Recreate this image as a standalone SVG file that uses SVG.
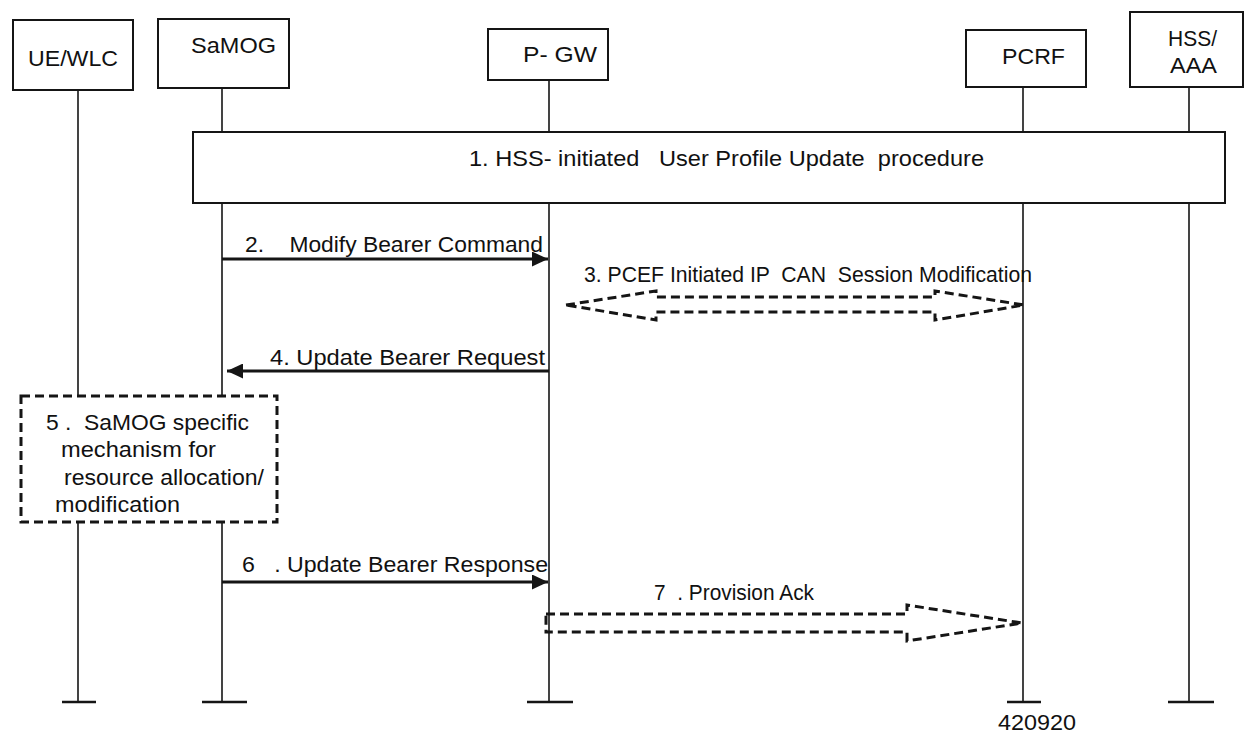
<svg xmlns="http://www.w3.org/2000/svg" width="1248" height="733" viewBox="0 0 1248 733">
<style>
  text { font-family: "Liberation Sans", Arial, sans-serif; font-size: 22px; fill: #111; }
  .box { fill: #fff; stroke: #151515; stroke-width: 2; }
  .life { stroke: #151515; stroke-width: 1.6; fill: none; }
  .endbar { stroke: #151515; stroke-width: 2.6; }
  .msg { stroke: #151515; stroke-width: 3; fill: none; }
  .dashbox { fill: #fff; stroke: #151515; stroke-width: 3; stroke-dasharray: 9 5; }
  .block { fill: none; stroke: #151515; stroke-width: 3; stroke-dasharray: 9 5; stroke-linejoin: miter; }
</style>
<defs>
  <marker id="head" markerUnits="userSpaceOnUse" markerWidth="16" markerHeight="15" refX="16" refY="7.5" orient="auto">
    <path d="M0,0 L16,7.5 L0,15 Z" fill="#151515"/>
  </marker>
</defs>
<rect width="1248" height="733" fill="#fff"/>

<g id="lifelines">
  <line class="life" x1="78" y1="90" x2="78" y2="702"/>
  <line class="life" x1="222" y1="88" x2="222" y2="702"/>
  <line class="life" x1="549" y1="80" x2="549" y2="702"/>
  <line class="life" x1="1023" y1="87" x2="1023" y2="702"/>
  <line class="life" x1="1189" y1="87" x2="1189" y2="702"/>
  <line class="endbar" x1="62" y1="702" x2="96" y2="702"/>
  <line class="endbar" x1="202" y1="702" x2="247" y2="702"/>
  <line class="endbar" x1="527" y1="702" x2="573" y2="702"/>
  <line class="endbar" x1="1007" y1="702" x2="1041" y2="702"/>
  <line class="endbar" x1="1168" y1="702" x2="1214" y2="702"/>
</g>

<g id="ue-wlc">
  <rect class="box" x="13" y="20" width="120" height="70"/>
  <text x="28" y="66" textLength="90" lengthAdjust="spacingAndGlyphs">UE/WLC</text>
</g>
<g id="samog">
  <rect class="box" x="158" y="19" width="131" height="69"/>
  <text x="191" y="53" textLength="85" lengthAdjust="spacingAndGlyphs">SaMOG</text>
</g>
<g id="pgw">
  <rect class="box" x="488" y="29" width="120" height="51"/>
  <text x="523" y="62" textLength="74" lengthAdjust="spacingAndGlyphs" xml:space="preserve">P- GW</text>
</g>
<g id="pcrf">
  <rect class="box" x="966" y="30" width="120" height="57"/>
  <text x="1002" y="64" textLength="63" lengthAdjust="spacingAndGlyphs">PCRF</text>
</g>
<g id="hss-aaa">
  <rect class="box" x="1130" y="12" width="113" height="75"/>
  <text x="1168" y="46" textLength="49" lengthAdjust="spacingAndGlyphs">HSS/</text>
  <text x="1170" y="73" textLength="47" lengthAdjust="spacingAndGlyphs">AAA</text>
</g>

<g id="step1">
  <rect class="box" x="193" y="132" width="1032" height="71"/>
  <text x="469" y="166" textLength="515" lengthAdjust="spacingAndGlyphs" xml:space="preserve">1. HSS- initiated   User Profile Update  procedure</text>
</g>

<g id="step5">
  <rect class="dashbox" x="21" y="396" width="256" height="126"/>
  <text x="46" y="430" textLength="203" lengthAdjust="spacingAndGlyphs" xml:space="preserve">5 .  SaMOG specific</text>
  <text x="61" y="457" textLength="155" lengthAdjust="spacingAndGlyphs">mechanism for</text>
  <text x="64" y="485" textLength="200" lengthAdjust="spacingAndGlyphs">resource allocation/</text>
  <text x="55" y="512" textLength="125" lengthAdjust="spacingAndGlyphs">modification</text>
</g>

<g id="connectors">
  <g id="msg2">
    <line class="msg" x1="222" y1="259" x2="548" y2="259" marker-end="url(#head)"/>
    <text x="245" y="252" textLength="298" lengthAdjust="spacingAndGlyphs" xml:space="preserve">2.    Modify Bearer Command</text>
  </g>
  <g id="msg3">
    <path class="block" d="M566,305 L656,291 L656,297 L935,297 L935,291 L1024,305 L935,320 L935,312 L656,312 L656,320 Z"/>
    <text x="584" y="282" textLength="448" lengthAdjust="spacingAndGlyphs" xml:space="preserve">3. PCEF Initiated IP  CAN  Session Modification</text>
  </g>
  <g id="msg4">
    <line class="msg" x1="549" y1="371" x2="227" y2="371" marker-end="url(#head)"/>
    <text x="270" y="365" textLength="275" lengthAdjust="spacingAndGlyphs">4. Update Bearer Request</text>
  </g>
  <g id="msg6">
    <line class="msg" x1="222" y1="582" x2="548" y2="582" marker-end="url(#head)"/>
    <text x="242" y="572" textLength="306" lengthAdjust="spacingAndGlyphs" xml:space="preserve">6   . Update Bearer Response</text>
  </g>
  <g id="msg7">
    <path class="block" d="M546,614 L907,614 L907,605 L1022,623 L907,641 L907,632 L546,632 Z"/>
    <text x="654" y="600" textLength="160" lengthAdjust="spacingAndGlyphs" xml:space="preserve">7  . Provision Ack</text>
  </g>
</g>

<text x="998" y="730" font-size="20" textLength="78" lengthAdjust="spacingAndGlyphs">420920</text>
</svg>
